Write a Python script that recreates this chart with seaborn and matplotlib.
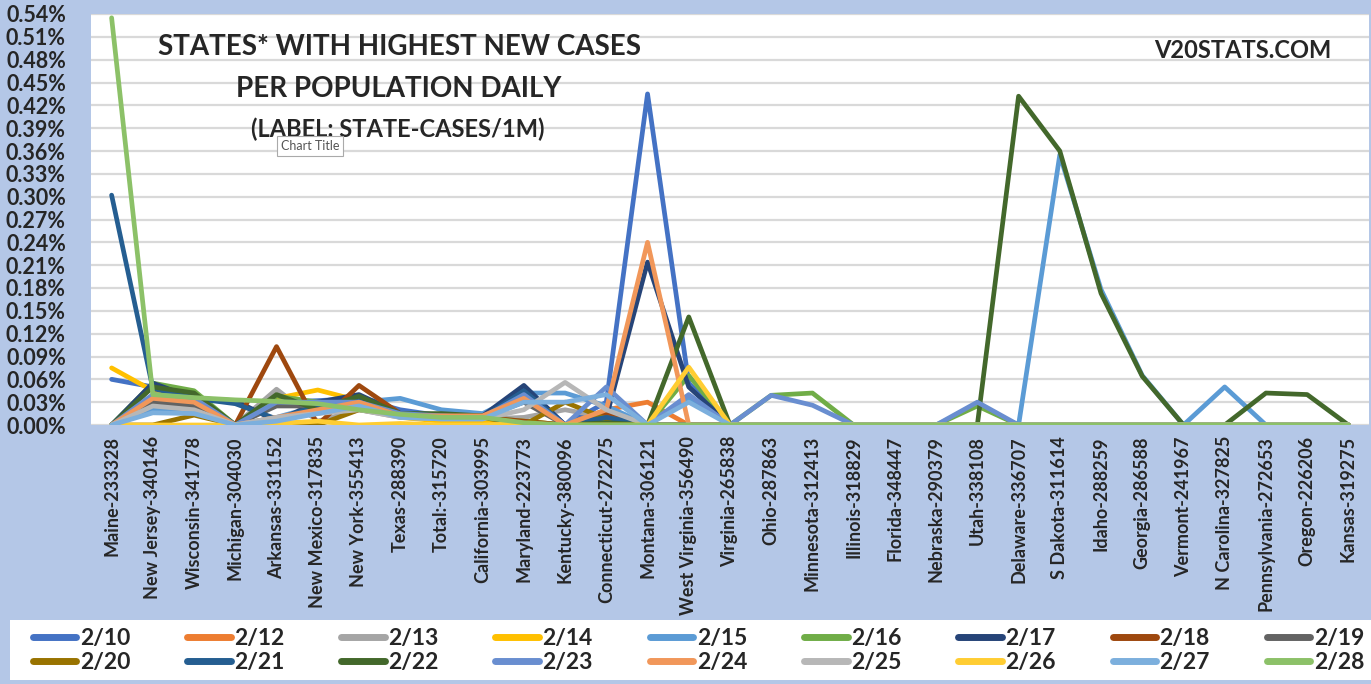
import matplotlib
matplotlib.use("Agg")
import matplotlib.pyplot as plt
import seaborn as sns
import pandas as pd
import numpy as np
from matplotlib.ticker import FuncFormatter

# ---------------- data ----------------
states = ["Maine-233328", "New Jersey-340146", "Wisconsin-341778", "Michigan-304030",
          "Arkansas-331152", "New Mexico-317835", "New York-355413", "Texas-288390",
          "Total:-315720", "California-303995", "Maryland-223773", "Kentucky-380096",
          "Connecticut-272275", "Montana-306121", "West Virginia-356490", "Virginia-265838",
          "Ohio-287863", "Minnesota-312413", "Illinois-318829", "Florida-348447",
          "Nebraska-290379", "Utah-338108", "Delaware-336707", "S Dakota-311614",
          "Idaho-288259", "Georgia-286588", "Vermont-241967", "N Carolina-327825",
          "Pennsylvania-272653", "Oregon-226206", "Kansas-319275"]

dates = ["2/10", "2/12", "2/13", "2/14", "2/15", "2/16", "2/17", "2/18", "2/19",
         "2/20", "2/21", "2/22", "2/23", "2/24", "2/25", "2/26", "2/27", "2/28"]

colors = ["#4472C4", "#ED7D31", "#A5A5A5", "#FFC000", "#5B9BD5", "#70AD47",
          "#264478", "#9E480E", "#636363", "#997300", "#255E91", "#43682B",
          "#698ED0", "#F1975A", "#B7B7B7", "#FFCD33", "#7CAFDD", "#8CC168"]

# values in percent, one list per date (31 states each)
v_0210 = [0.060, 0.050, 0.040, 0.000, 0.030, 0.032, 0.035, 0.020, 0.012, 0.010, 0.050, 0.000, 0.030, 0.435, 0.055, 0.0,
          0.0, 0.0, 0.0, 0.0, 0.0, 0.0, 0.0, 0.0, 0.0, 0.0, 0.0, 0.0, 0.0, 0.0, 0.0]
v_0212 = [0.000, 0.035, 0.030, 0.000, 0.005, 0.020, 0.030, 0.013, 0.012, 0.012, 0.035, 0.000, 0.020, 0.030, 0.000, 0.0,
          0.0, 0.0, 0.0, 0.0, 0.0, 0.0, 0.0, 0.0, 0.0, 0.0, 0.0, 0.0, 0.0, 0.0, 0.0]
v_0213 = [0.000, 0.028, 0.020, 0.000, 0.047, 0.005, 0.020, 0.010, 0.008, 0.008, 0.010, 0.020, 0.010, 0.000, 0.000, 0.0,
          0.0, 0.0, 0.0, 0.0, 0.0, 0.0, 0.0, 0.0, 0.0, 0.0, 0.0, 0.0, 0.0, 0.0, 0.0]
v_0214 = [0.075, 0.045, 0.035, 0.000, 0.035, 0.046, 0.032, 0.010, 0.005, 0.005, 0.005, 0.000, 0.005, 0.000, 0.000, 0.0,
          0.0, 0.0, 0.0, 0.0, 0.0, 0.0, 0.0, 0.0, 0.0, 0.0, 0.0, 0.0, 0.0, 0.0, 0.0]
v_0215 = [0.000, 0.020, 0.018, 0.000, 0.010, 0.025, 0.030, 0.035, 0.020, 0.015, 0.042, 0.042, 0.025, 0.000, 0.035, 0.0,
          0.0, 0.0, 0.0, 0.0, 0.0, 0.0, 0.0, 0.355, 0.178, 0.065, 0.0, 0.050, 0.0, 0.0, 0.0]
v_0216 = [0.000, 0.055, 0.045, 0.000, 0.038, 0.030, 0.030, 0.015, 0.010, 0.010, 0.005, 0.000, 0.005, 0.000, 0.065, 0.0,
          0.039, 0.042, 0.0, 0.0, 0.0, 0.025, 0.0, 0.0, 0.0, 0.0, 0.0, 0.0, 0.0, 0.0, 0.0]
v_0217 = [0.000, 0.055, 0.035, 0.032, 0.005, 0.030, 0.040, 0.015, 0.010, 0.012, 0.052, 0.000, 0.010, 0.214, 0.050, 0.0,
          0.0, 0.0, 0.0, 0.0, 0.0, 0.0, 0.0, 0.0, 0.0, 0.0, 0.0, 0.0, 0.0, 0.0, 0.0]
v_0218 = [0.000, 0.035, 0.030, 0.000, 0.103, 0.000, 0.052, 0.015, 0.010, 0.010, 0.005, 0.000, 0.015, 0.000, 0.000, 0.0,
          0.0, 0.0, 0.0, 0.0, 0.0, 0.0, 0.0, 0.0, 0.0, 0.0, 0.0, 0.0, 0.0, 0.0, 0.0]
v_0219 = [0.000, 0.030, 0.025, 0.000, 0.025, 0.025, 0.030, 0.012, 0.010, 0.010, 0.030, 0.000, 0.010, 0.000, 0.000, 0.0,
          0.0, 0.0, 0.0, 0.0, 0.0, 0.0, 0.0, 0.0, 0.0, 0.0, 0.0, 0.0, 0.0, 0.0, 0.0]
v_0220 = [0.000, 0.000, 0.013, 0.000, 0.003, 0.000, 0.020, 0.012, 0.010, 0.010, 0.000, 0.030, 0.008, 0.000, 0.000, 0.0,
          0.0, 0.0, 0.0, 0.0, 0.0, 0.0, 0.0, 0.0, 0.0, 0.0, 0.0, 0.0, 0.0, 0.0, 0.0]
v_0221 = [0.302, 0.048, 0.035, 0.028, 0.008, 0.025, 0.035, 0.015, 0.010, 0.010, 0.045, 0.000, 0.010, 0.000, 0.000, 0.0,
          0.0, 0.0, 0.0, 0.0, 0.0, 0.0, 0.0, 0.0, 0.0, 0.0, 0.0, 0.0, 0.0, 0.0, 0.0]
v_0222 = [0.000, 0.050, 0.042, 0.000, 0.040, 0.020, 0.038, 0.015, 0.015, 0.012, 0.000, 0.000, 0.003, 0.000, 0.142, 0.0,
          0.0, 0.0, 0.0, 0.0, 0.0, 0.0, 0.432, 0.360, 0.173, 0.064, 0.0, 0.0, 0.042, 0.040, 0.0]
v_0223 = [0.000, 0.040, 0.035, 0.000, 0.030, 0.030, 0.030, 0.015, 0.012, 0.010, 0.040, 0.000, 0.050, 0.000, 0.040, 0.0,
          0.039, 0.026, 0.0, 0.0, 0.0, 0.030, 0.0, 0.0, 0.0, 0.0, 0.0, 0.0, 0.0, 0.0, 0.0]
v_0224 = [0.000, 0.035, 0.030, 0.000, 0.010, 0.020, 0.030, 0.012, 0.012, 0.012, 0.035, 0.000, 0.020, 0.240, 0.000, 0.0,
          0.0, 0.0, 0.0, 0.0, 0.0, 0.0, 0.0, 0.0, 0.0, 0.0, 0.0, 0.0, 0.0, 0.0, 0.0]
v_0225 = [0.000, 0.025, 0.020, 0.000, 0.010, 0.015, 0.020, 0.010, 0.008, 0.008, 0.020, 0.056, 0.020, 0.000, 0.000, 0.0,
          0.0, 0.0, 0.0, 0.0, 0.0, 0.0, 0.0, 0.0, 0.0, 0.0, 0.0, 0.0, 0.0, 0.0, 0.0]
v_0226 = [0.000, 0.000, 0.000, 0.000, 0.002, 0.005, 0.000, 0.002, 0.000, 0.000, 0.002, 0.000, 0.000, 0.000, 0.076, 0.0,
          0.0, 0.0, 0.0, 0.0, 0.0, 0.0, 0.0, 0.0, 0.0, 0.0, 0.0, 0.0, 0.0, 0.0, 0.0]
v_0227 = [0.000, 0.016, 0.015, 0.000, 0.005, 0.015, 0.025, 0.010, 0.008, 0.008, 0.030, 0.030, 0.040, 0.000, 0.030, 0.0,
          0.0, 0.0, 0.0, 0.0, 0.0, 0.0, 0.0, 0.0, 0.0, 0.0, 0.0, 0.0, 0.0, 0.0, 0.0]
v_0228 = [0.535, 0.040, 0.036, 0.033, 0.031, 0.028, 0.020, 0.014, 0.010, 0.010, 0.003, 0.000, 0.000, 0.000, 0.000, 0.0,
          0.0, 0.0, 0.0, 0.0, 0.0, 0.0, 0.0, 0.0, 0.0, 0.0, 0.0, 0.0, 0.0, 0.0, 0.0]

series = [v_0210, v_0212, v_0213, v_0214, v_0215, v_0216, v_0217, v_0218, v_0219,
          v_0220, v_0221, v_0222, v_0223, v_0224, v_0225, v_0226, v_0227, v_0228]

yticks = np.arange(0, 0.5401, 0.03)

# ---------------- table ----------------
rows = []
for d, vals in zip(dates, series):
    for s, v in zip(states, vals):
        rows.append({"state": s, "date": d, "value": v})
df = pd.DataFrame(rows)

# ---------------- figure ----------------
sns.set_theme(style="white")
plt.rcParams["font.family"] = ["Lato", "DejaVu Sans"]
plt.rcParams["font.weight"] = "bold"

BG = "#B4C7E7"
W, H = 1371, 684
fig = plt.figure(figsize=(W / 100, H / 100), dpi=100, facecolor=BG)
ax = fig.add_axes([91 / W, 1 - 425 / H, (1369 - 91) / W, (425 - 14) / H])
ax.set_facecolor("white")

sns.lineplot(data=df, x="state", y="value", hue="date", hue_order=dates,
             palette=colors, linewidth=3.4, sort=False, ax=ax, legend=True)

ax.set_xlim(-0.5, len(states) - 0.5)
ax.set_ylim(0, 0.54)
ax.set_yticks(yticks)
ax.yaxis.set_major_formatter(FuncFormatter(lambda v, p: f"{v:.2f}%"))
ax.grid(axis="y", color="#D9D9D9", linewidth=1.6)
ax.set_axisbelow(True)
for sp in ax.spines.values():
    sp.set_visible(False)
ax.set_xlabel("")
ax.set_ylabel("")
ax.tick_params(axis="y", length=0, pad=18, labelsize=15.5)
ax.tick_params(axis="x", length=0, pad=8, labelsize=13)
ax.set_xticks(range(len(states)))
ax.set_xticklabels(states, rotation=90, fontweight="bold")
for t in ax.get_yticklabels():
    t.set_fontweight("bold")

# titles
fig.text(399 / W, 1 - 47 / H, "STATES* WITH HIGHEST NEW CASES", ha="center", va="center",
         fontsize=20, fontweight="bold")
fig.text(399 / W, 1 - 89 / H, "PER POPULATION DAILY", ha="center", va="center",
         fontsize=20, fontweight="bold")
fig.text(398 / W, 1 - 129 / H, "(LABEL: STATE-CASES/1M)", ha="center", va="center",
         fontsize=17, fontweight="bold")
fig.text(1243 / W, 1 - 50 / H, "V20STATS.COM", ha="center", va="center",
         fontsize=17, fontweight="bold")
fig.text(310 / W, 1 - 146 / H, "Chart Title", ha="center", va="center", fontsize=9,
         fontweight="normal", color="#555555",
         bbox=dict(boxstyle="square,pad=0.3", facecolor="white", edgecolor="#AAAAAA", linewidth=0.8))

# legend (row-wise order)
handles, labels = ax.get_legend_handles_labels()
ax.get_legend().remove()
order = []
for c in range(9):
    order += [c, c + 9]
handles = [handles[i] for i in order]
labels = [labels[i] for i in order]
leg = fig.legend(handles, labels, ncol=9, loc="lower left",
                 bbox_to_anchor=(26 / W, 4 / H, (W - 26) / W, 58 / H), mode="expand",
                 frameon=False, handlelength=1.9, handletextpad=0.15,
                 borderaxespad=0, borderpad=0.3, labelspacing=0.15,
                 prop={"size": 16.5, "weight": "bold"})
for h in leg.get_lines():
    h.set_linewidth(5)
    h.set_solid_capstyle("round")
# white legend panel
fig.patches.append(plt.Rectangle((10 / W, 4 / H), (W - 10) / W, 60 / H,
                                 transform=fig.transFigure, facecolor="white",
                                 edgecolor="none", zorder=4))

fig.savefig("out.png", dpi=100, facecolor=BG)
